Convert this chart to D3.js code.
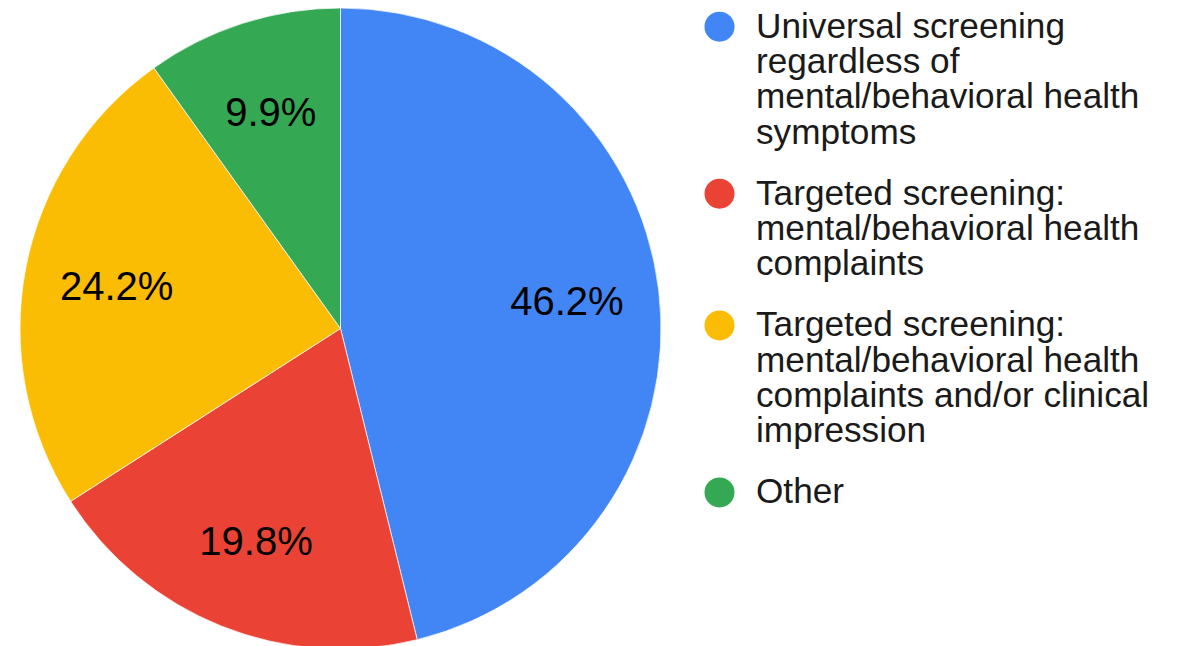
<!DOCTYPE html>
<html>
<head>
<meta charset="utf-8">
<script src="https://cdn.jsdelivr.net/npm/d3@7"></script>
<style>
  html, body { margin: 0; padding: 0; background: #fff; }
  svg { display: block; font-family: "Liberation Sans", Arial, sans-serif; }
</style>
</head>
<body>
<svg id="chart" width="1178" height="646"></svg>
<script>
const categories = [
    "Universal screening regardless of mental/behavioral health symptoms",
    "Targeted screening: mental/behavioral health complaints",
    "Targeted screening: mental/behavioral health complaints and/or clinical impression",
    "Other"
];
const values = [46.2, 19.8, 24.2, 9.9];
const colors = ["#4285f4", "#ea4335", "#fbbc04", "#34a853"];

const width = 1178;
const height = 646;
const cx = 340.5, cy = 328.5, radius = 320.5;

const svg = d3.select("#chart");

const pie = d3.pie().sort(null).value(d => d.value);
const arcs = pie(categories.map((c, i) => ({ name: c, value: values[i] })));

const arc = d3.arc().innerRadius(0).outerRadius(radius);
const labelArc = d3.arc().innerRadius(228).outerRadius(228);

const g = svg.append("g").attr("transform", `translate(${cx},${cy})`);

g.selectAll("path")
    .data(arcs)
    .enter()
    .append("path")
    .attr("d", arc)
    .attr("fill", (d, i) => colors[i])
    .attr("stroke", "#fff")
    .attr("stroke-width", 0.7);

g.selectAll("text")
    .data(arcs)
    .enter()
    .append("text")
    .attr("transform", d => `translate(${labelArc.centroid(d)})`)
    .attr("text-anchor", "middle")
    .attr("dy", "0.36em")
    .attr("font-size", 40)
    .attr("fill", "#000")
    .text(d => d3.format(".1f")(d.value) + "%");

// legend
const legendX = 719.5;
const textX = 756;
const fontSize = 35.2;
const lineH = 35.3;
const itemGap = 25.8;
const maxW = 420;

const legend = svg.append("g");
let y = 26.7;
categories.forEach((c, i) => {
    legend.append("circle")
        .attr("cx", legendX)
        .attr("cy", y)
        .attr("r", 15)
        .attr("fill", colors[i]);

    const text = legend.append("text")
        .attr("x", textX)
        .attr("y", y + 11)
        .attr("font-size", fontSize)
        .attr("fill", "#1a1a1a");

    const words = c.split(" ");
    let line = [];
    let lines = 0;
    let tspan = text.append("tspan").attr("x", textX).attr("dy", 0);
    words.forEach(w => {
        line.push(w);
        tspan.text(line.join(" "));
        if (tspan.node().getComputedTextLength() > maxW && line.length > 1) {
            line.pop();
            tspan.text(line.join(" "));
            line = [w];
            lines++;
            tspan = text.append("tspan").attr("x", textX).attr("dy", lineH).text(w);
        }
    });
    lines++;
    y += lines * lineH + itemGap;
});
</script>
</body>
</html>
